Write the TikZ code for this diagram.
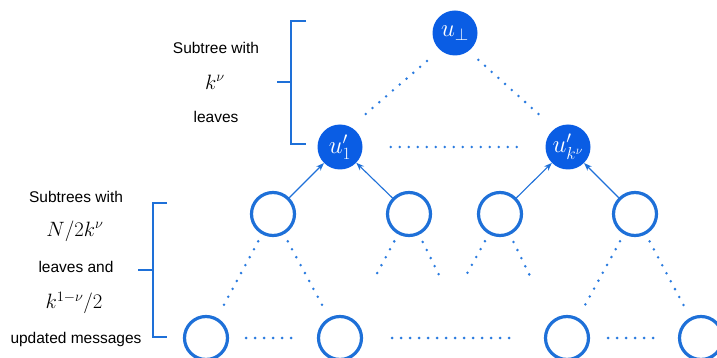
\documentclass[tikz,border=0pt]{standalone}
\usepackage{amsmath}
\usepackage{fontspec}
\usepackage{tikz}
\usetikzlibrary{arrows.meta}
\newfontfamily\arialfont{Liberation Sans}
\definecolor{fillblue}{HTML}{0A5DE4}
\definecolor{ringblue}{HTML}{1E70D8}
\definecolor{dotblue}{HTML}{2A7BDF}

\begin{document}
\begin{tikzpicture}[x=1pt, y=-1pt,
        bluenode/.style={circle, fill=fillblue, text=white, minimum size=45pt, inner sep=0pt, font=\fontsize{23}{26}\selectfont},
        ringnode/.style={circle, draw=ringblue, line width=3.2pt, fill=white, minimum size=43pt, inner sep=0pt},
        dotline/.style={dotblue, line width=2.8pt, line cap=round, dash pattern=on 0pt off 9pt},
        arrowline/.style={ringblue, line width=1.1pt, -{Stealth[length=8pt, width=6pt]}},
        bracket/.style={ringblue, line width=2.4pt},
        textlabel/.style={font=\arialfont\fontsize{15.5}{18}\selectfont},
        mathlabel/.style={font=\fontsize{20}{23}\selectfont}]
            \useasboundingbox (0,0) rectangle (717,358);
            % top of the tree
            \node at (455,33) [bluenode] (top) {$u_\perp$};
            \node at (340,147) [bluenode] (u1) {$u'_1$};
            \node at (568,147) [bluenode] (uk) {$u'_{k^\nu}$};
            \node at (273,214) [ringnode] (a1) {};
            \node at (409,214) [ringnode] (a2) {};
            \node at (500,214) [ringnode] (a3) {};
            \node at (635,214) [ringnode] (a4) {};
            \node at (206,338) [ringnode] (b1) {};
            \node at (340,338) [ringnode] (b2) {};
            \node at (567,338) [ringnode] (b3) {};
            \node at (701,338) [ringnode] (b4) {};
            \coordinate (a2l) at (374,279);
            \coordinate (a2r) at (441,279);
            \coordinate (a3l) at (464,279);
            \coordinate (a3r) at (531,278);
            \draw[dotline, shorten <=17pt, shorten >=12pt] (top.228) -- (u1.62);
            \draw[dotline, shorten <=13pt, shorten >=20pt] (top.307) -- (uk.126);
            \draw[dotline, shorten <=28pt, shorten >=21pt] (u1) -- (uk);
            \draw[arrowline] (a1) -- (u1);
            \draw[arrowline] (a2) -- (u1);
            \draw[arrowline] (a3) -- (uk);
            \draw[arrowline] (a4) -- (uk);
            % subtrees below
            \draw[dotline, shorten <=8pt, shorten >=14pt] (a1) -- (b1);
            \draw[dotline, shorten <=8pt, shorten >=14pt] (a1) -- (b2);
            \draw[dotline, shorten <=8pt] (a2) -- (a2l);
            \draw[dotline, shorten <=8pt] (a2) -- (a2r);
            \draw[dotline, shorten <=8pt] (a3) -- (a3l);
            \draw[dotline, shorten <=8pt] (a3) -- (a3r);
            \draw[dotline, shorten <=8pt, shorten >=14pt] (a4) -- (b3);
            \draw[dotline, shorten <=8pt, shorten >=14pt] (a4) -- (b4);
            \draw[dotline, shorten <=17pt, shorten >=18pt] (b1) -- (b2);
            \draw[dotline, shorten <=29pt, shorten >=27pt] (b2) -- (b3);
            \draw[dotline, shorten <=18pt, shorten >=17pt] (b3) -- (b4);
            % brackets and their texts
            \draw[bracket] (306,21) -- (291,21) -- (291,144) -- (306,144);
            \draw[bracket] (277,82) -- (291,82);
            \draw[bracket] (167,203) -- (153,203) -- (153,337) -- (167,337);
            \draw[bracket] (138,270) -- (153,270);
            \node at (216,48) [textlabel] (t1) {Subtree with};
            \node at (215,82) [mathlabel] (t2) {$k^\nu$};
            \node at (216,117) [textlabel] (t3) {leaves};
            \node at (76,197) [textlabel] (s1) {Subtrees with};
            \node at (75,231) [mathlabel] (s2) {$N/2k^\nu$};
            \node at (76,267) [textlabel] (s3) {leaves and};
            \node at (74,303) [mathlabel] (s4) {$k^{1-\nu}/2$};
            \node at (76,339) [textlabel] (s5) {updated messages};
            % \draw[bracket] (291,21) -- (291,144);
        \end{tikzpicture}
\end{document}
